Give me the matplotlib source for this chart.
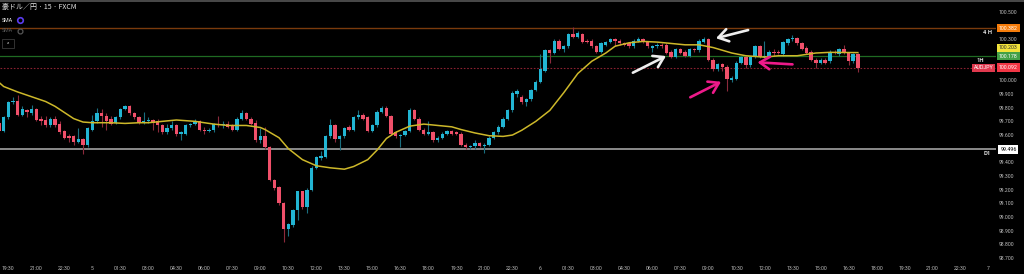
import matplotlib

matplotlib.use("Agg")
import matplotlib.pyplot as plt
import matplotlib.transforms as mtransforms
import numpy as np

plt.rcParams["font.family"] = ["Roboto", "Noto Sans CJK JP", "DejaVu Sans"]

# --- data (AUD/JPY 15m candles) ---------------------------------------------
opens = [
    99.69, 99.63, 99.73, 99.84, 99.85, 99.75, 99.78, 99.76, 99.79, 99.72,
    99.71, 99.67, 99.72, 99.68, 99.63, 99.59, 99.59, 99.55, 99.57, 99.53,
    99.64, 99.70, 99.76, 99.74, 99.72, 99.69, 99.73, 99.79, 99.81, 99.76,
    99.73, 99.69, 99.70, 99.71, 99.70, 99.67, 99.62, 99.65, 99.67, 99.61,
    99.61, 99.67, 99.68, 99.70, 99.64, 99.63, 99.64, 99.68, 99.67, 99.68,
    99.67, 99.64, 99.72, 99.76, 99.72, 99.69, 99.56, 99.59, 99.51, 99.27,
    99.22, 99.10, 98.91, 98.94, 99.05, 99.19, 99.07, 99.20, 99.36, 99.43,
    99.44, 99.59, 99.67, 99.57, 99.59, 99.66, 99.64, 99.73, 99.75, 99.73,
    99.63, 99.67, 99.77, 99.80, 99.74, 99.62, 99.59, 99.60, 99.63, 99.78,
    99.72, 99.64, 99.61, 99.62, 99.56, 99.58, 99.61, 99.63, 99.62, 99.61,
    99.53, 99.51, 99.52, 99.54, 99.52, 99.53, 99.58, 99.62, 99.66, 99.72,
    99.78, 99.90, 99.88, 99.84, 99.86, 99.93, 99.99, 100.07, 100.22, 100.20,
    100.29, 100.23, 100.25, 100.34, 100.32, 100.34, 100.29, 100.29, 100.25, 100.21,
    100.26, 100.28, 100.30, 100.29, 100.27, 100.27, 100.25, 100.29, 100.30, 100.28,
    100.24, 100.25, 100.26, 100.26, 100.21, 100.17, 100.23, 100.21, 100.18, 100.23,
    100.22, 100.28, 100.30, 100.15, 100.08, 100.12, 100.10, 100.00, 100.01, 100.13,
    100.17, 100.11, 100.17, 100.25, 100.17, 100.18, 100.21, 100.21, 100.19, 100.27,
    100.30, 100.31, 100.27, 100.24, 100.21, 100.15, 100.13, 100.15, 100.14, 100.21,
    100.19, 100.23, 100.20, 100.14, 100.19,
]
closes = [
    99.63, 99.73, 99.84, 99.85, 99.75, 99.79, 99.77, 99.79, 99.71, 99.70,
    99.67, 99.72, 99.67, 99.62, 99.58, 99.58, 99.55, 99.57, 99.53, 99.65,
    99.70, 99.76, 99.74, 99.70, 99.68, 99.73, 99.79, 99.81, 99.76, 99.73,
    99.69, 99.70, 99.71, 99.69, 99.67, 99.62, 99.65, 99.67, 99.61, 99.62,
    99.67, 99.68, 99.70, 99.64, 99.63, 99.64, 99.68, 99.67, 99.68, 99.66,
    99.64, 99.72, 99.76, 99.72, 99.68, 99.56, 99.59, 99.51, 99.27, 99.21,
    99.10, 98.91, 98.95, 99.05, 99.19, 99.07, 99.20, 99.36, 99.44, 99.45,
    99.59, 99.67, 99.57, 99.59, 99.65, 99.64, 99.73, 99.75, 99.72, 99.63,
    99.67, 99.77, 99.80, 99.74, 99.61, 99.59, 99.60, 99.63, 99.78, 99.72,
    99.64, 99.61, 99.62, 99.56, 99.58, 99.61, 99.63, 99.61, 99.61, 99.53,
    99.51, 99.52, 99.54, 99.52, 99.53, 99.58, 99.62, 99.66, 99.72, 99.78,
    99.91, 99.92, 99.84, 99.86, 99.93, 99.99, 100.08, 100.22, 100.20, 100.29,
    100.23, 100.25, 100.34, 100.32, 100.35, 100.28, 100.28, 100.25, 100.21, 100.27,
    100.28, 100.30, 100.29, 100.27, 100.26, 100.25, 100.29, 100.30, 100.28, 100.25,
    100.25, 100.26, 100.25, 100.20, 100.17, 100.23, 100.20, 100.18, 100.23, 100.22,
    100.29, 100.30, 100.15, 100.08, 100.12, 100.10, 100.01, 100.02, 100.13, 100.17,
    100.11, 100.17, 100.25, 100.17, 100.18, 100.21, 100.20, 100.20, 100.28, 100.30,
    100.31, 100.27, 100.23, 100.20, 100.15, 100.13, 100.15, 100.13, 100.21, 100.20,
    100.23, 100.20, 100.14, 100.19, 100.092,
]
highs = [
    99.70, 99.74, 99.85, 99.88, 99.89, 99.81, 99.79, 99.82, 99.80, 99.74,
    99.74, 99.73, 99.74, 99.70, 99.64, 99.61, 99.60, 99.65, 99.58, 99.66,
    99.75, 99.80, 99.79, 99.76, 99.74, 99.74, 99.80, 99.82, 99.82, 99.77,
    99.74, 99.77, 99.73, 99.72, 99.72, 99.68, 99.68, 99.70, 99.68, 99.63,
    99.68, 99.69, 99.72, 99.71, 99.66, 99.65, 99.69, 99.74, 99.70, 99.70,
    99.68, 99.73, 99.78, 99.77, 99.73, 99.71, 99.65, 99.66, 99.52, 99.28,
    99.23, 99.11, 98.96, 99.06, 99.19, 99.19, 99.21, 99.37, 99.45, 99.48,
    99.60, 99.72, 99.68, 99.60, 99.66, 99.67, 99.74, 99.78, 99.76, 99.74,
    99.68, 99.78, 99.81, 99.81, 99.75, 99.63, 99.61, 99.64, 99.80, 99.79,
    99.73, 99.65, 99.70, 99.63, 99.59, 99.62, 99.64, 99.64, 99.63, 99.62,
    99.54, 99.53, 99.56, 99.55, 99.54, 99.59, 99.63, 99.67, 99.73, 99.79,
    99.92, 99.94, 99.89, 99.87, 99.94, 100.00, 100.19, 100.23, 100.23, 100.30,
    100.30, 100.26, 100.35, 100.39, 100.36, 100.35, 100.30, 100.30, 100.26, 100.28,
    100.29, 100.31, 100.31, 100.30, 100.28, 100.28, 100.30, 100.32, 100.31, 100.29,
    100.26, 100.27, 100.27, 100.27, 100.22, 100.24, 100.24, 100.22, 100.24, 100.24,
    100.30, 100.32, 100.31, 100.16, 100.13, 100.13, 100.11, 100.03, 100.14, 100.18,
    100.18, 100.18, 100.26, 100.26, 100.29, 100.22, 100.23, 100.22, 100.29, 100.31,
    100.33, 100.32, 100.28, 100.25, 100.22, 100.16, 100.16, 100.16, 100.22, 100.22,
    100.24, 100.26, 100.21, 100.20, 100.20,
]
lows = [
    99.62, 99.62, 99.72, 99.83, 99.74, 99.74, 99.73, 99.75, 99.70, 99.67,
    99.66, 99.66, 99.66, 99.61, 99.57, 99.55, 99.53, 99.54, 99.46, 99.51,
    99.63, 99.69, 99.66, 99.64, 99.67, 99.68, 99.72, 99.78, 99.75, 99.72,
    99.68, 99.68, 99.69, 99.64, 99.62, 99.61, 99.61, 99.64, 99.59, 99.56,
    99.60, 99.66, 99.67, 99.63, 99.61, 99.62, 99.62, 99.66, 99.65, 99.65,
    99.63, 99.63, 99.71, 99.71, 99.67, 99.55, 99.54, 99.50, 99.26, 99.20,
    99.09, 98.82, 98.86, 98.93, 98.98, 99.06, 99.03, 99.19, 99.35, 99.42,
    99.43, 99.58, 99.55, 99.49, 99.58, 99.63, 99.63, 99.72, 99.71, 99.62,
    99.62, 99.66, 99.76, 99.73, 99.60, 99.58, 99.51, 99.59, 99.62, 99.71,
    99.63, 99.60, 99.60, 99.55, 99.55, 99.57, 99.60, 99.60, 99.60, 99.52,
    99.50, 99.50, 99.50, 99.51, 99.47, 99.52, 99.57, 99.61, 99.65, 99.71,
    99.77, 99.88, 99.83, 99.81, 99.85, 99.92, 99.98, 100.06, 100.13, 100.19,
    100.22, 100.21, 100.24, 100.31, 100.31, 100.27, 100.27, 100.24, 100.20, 100.20,
    100.25, 100.27, 100.25, 100.26, 100.25, 100.24, 100.24, 100.28, 100.27, 100.24,
    100.21, 100.24, 100.24, 100.19, 100.16, 100.16, 100.19, 100.17, 100.17, 100.21,
    100.21, 100.27, 100.14, 100.07, 100.07, 100.07, 99.92, 99.99, 100.00, 100.12,
    100.09, 100.10, 100.16, 100.16, 100.16, 100.17, 100.18, 100.19, 100.18, 100.26,
    100.29, 100.26, 100.22, 100.19, 100.14, 100.09, 100.12, 100.12, 100.13, 100.19,
    100.18, 100.19, 100.11, 100.13, 100.06,
]

# SMA curve sampled at candle indices
sma_idx = [0, 1, 4, 7, 10, 12, 14, 16, 18, 20, 24, 27, 30, 32, 35, 38, 42, 46,
           49, 53, 56, 57, 59, 60, 62, 65, 68, 71, 74, 76, 79, 81, 83, 85, 88,
           91, 94, 97, 99, 102, 105, 108, 110, 112, 115, 118, 121, 124, 127,
           130, 132, 135, 138, 141, 144, 147, 150, 153, 157, 160, 164, 167,
           171, 175, 178, 184]
sma_val = [99.985, 99.955, 99.915, 99.88, 99.845, 99.81, 99.765, 99.72, 99.695,
           99.69, 99.69, 99.685, 99.69, 99.69, 99.70, 99.71, 99.70, 99.68,
           99.67, 99.67, 99.655, 99.64, 99.60, 99.58, 99.50, 99.42, 99.375,
           99.36, 99.35, 99.37, 99.42, 99.49, 99.575, 99.62, 99.665, 99.68,
           99.67, 99.66, 99.64, 99.615, 99.595, 99.59, 99.60, 99.635, 99.70,
           99.78, 99.91, 100.05, 100.14, 100.20, 100.25, 100.275, 100.285,
           100.28, 100.27, 100.26, 100.26, 100.24, 100.20, 100.18, 100.17,
           100.18, 100.18, 100.20, 100.205, 100.203]

time_labels = (["19:30", "21:00", "22:30", "5"]
               + ["01:30", "03:00", "04:30", "06:00", "07:30", "09:00", "10:30",
                  "12:00", "13:30", "15:00", "16:30", "18:00", "19:30", "21:00",
                  "22:30", "6"]
               + ["01:30", "03:00", "04:30", "06:00", "07:30", "09:00", "10:30",
                  "12:00", "13:30", "15:00", "16:30", "18:00", "19:30", "21:00",
                  "22:30", "7"])
price_ticks = [100.5, 100.3, 100.0, 99.9, 99.8, 99.7, 99.6, 99.4, 99.3, 99.2,
               99.1, 99.0, 98.9, 98.8, 98.7]

level_4h = 100.382
level_1h = 100.178
level_d1 = 99.496
sma_last = 100.203
symbol = "AUDJPY"
title = "豪ドル／円 · 15 · FXCM"

# --- figure -----------------------------------------------------------------
W, H = 1024, 274
fig = plt.figure(figsize=(W / 100, H / 100), dpi=100, facecolor="black")
ax = fig.add_axes([0, 12 / H, 996 / W, 259 / H])
ax.set_facecolor("black")
for s in ax.spines.values():
    s.set_visible(False)

UP, DN = "#22b5d3", "#f0506a"
UPW, DNW = "#1a6f80", "#8c2a3c"

o = np.array(opens)
c = np.array(closes)
hi = np.array(highs)
lo = np.array(lows)
x = np.arange(len(c))
up = c >= o
ax.vlines(x[up], lo[up], hi[up], color=UPW, lw=0.8, zorder=2)
ax.vlines(x[~up], lo[~up], hi[~up], color=DNW, lw=0.8, zorder=2)
body = np.maximum(np.abs(c - o), 0.005)
bottom = np.minimum(o, c)
ax.bar(x[up], body[up], 0.72, bottom[up], color=UP, lw=0, zorder=3)
ax.bar(x[~up], body[~up], 0.72, bottom[~up], color=DN, lw=0, zorder=3)

ax.plot(sma_idx, sma_val, color="#cdb82a", lw=1.1, zorder=4)

# horizontal levels
ax.axhline(level_4h, color="#7a3a0c", lw=1.0, zorder=1)
ax.axhline(level_1h, color="#1f6a22", lw=0.9, zorder=1)
ax.axhline(closes[-1], color="#8a2030", lw=0.8, ls=(0, (1.5, 1.5)), zorder=1)
ax.axhline(level_d1, color="#8a8a8a", lw=1.4, zorder=1)

ax.set_xlim(0.21, 213.6)
ax.set_ylim(98.671, 100.566)

# time axis
ax.set_xticks([2 + 6 * k for k in range(len(time_labels))])
ax.set_xticklabels(time_labels, fontsize=3.7, color="#bdbdbd")
ax.tick_params(axis="x", length=0, pad=3.0)

# price axis
ax.yaxis.tick_right()
ax.set_yticks(price_ticks)
ax.set_yticklabels([f"{p:.3f}" for p in price_ticks], fontsize=3.7, color="#bdbdbd")
ax.tick_params(axis="y", length=0, pad=2.2)

# level tags inside plot
tr = mtransforms.blended_transform_factory(ax.transAxes, ax.transData)
lab = dict(color="#e0e0e0", fontsize=4.2, fontweight="bold", ha="center", zorder=6)
ax.text(0.991, level_4h - 0.012, "4 H", va="top", transform=tr, **lab)
ax.text(0.984, level_1h - 0.012, "1H", va="top", transform=tr, **lab)
ax.text(0.991, level_d1 - 0.012, "D1", va="top", transform=tr, **lab)
ax.text(0.9875, closes[-1], symbol, va="center", ha="center", transform=tr,
        fontsize=3.8, color="white", zorder=7,
        bbox=dict(facecolor="#e0394e", edgecolor="none", pad=1.2))

# price tags on axis
def tag(price, text, bg, fg):
    ax.text(1.0125, price, text, va="center", ha="center", transform=tr,
            fontsize=3.8, color=fg, zorder=8, clip_on=False,
            bbox=dict(facecolor=bg, edgecolor="none", pad=1.3))

tag(level_4h, f"{level_4h:.3f}", "#f57c0a", "white")
tag(sma_last + 0.035, f"{sma_last:.3f}", "#f2e23a", "#333333")
tag(level_1h, f"{level_1h:.3f}", "#43a047", "white")
tag(closes[-1], f"{closes[-1]:.3f}", "#f23645", "white")
tag(level_d1, f"{level_d1:.3f}", "white", "black")

# hand-drawn arrows
def arrow(tail, head, col):
    ax.annotate("", xy=head, xytext=tail, zorder=9,
                arrowprops=dict(arrowstyle="->,head_length=0.7,head_width=0.45",
                                color=col, lw=1.9, shrinkA=0, shrinkB=0))

arrow((135.8, 100.056), (142.9, 100.178), "#eeeeee")
arrow((160.5, 100.368), (153.6, 100.308), "#eeeeee")
arrow((148.1, 99.876), (154.7, 99.990), "#ee1a8a")
arrow((170.0, 100.117), (162.5, 100.132), "#ee1a8a")

# header / legend
def fx(px):
    return px / W


def fy(py):
    return 1 - py / H


fig.patches.append(plt.Rectangle((0, fy(2)), 1, 2 / H, transform=fig.transFigure,
                                 facecolor="#474747", edgecolor="none"))
fig.text(fx(2), fy(7.5), title, fontsize=5, color="#e8e8e8", va="center",
         family=["Noto Sans CJK JP", "DejaVu Sans"])
fig.text(fx(2), fy(20), "SMA", fontsize=3.8, color="#e8e8e8", va="center")
fig.add_artist(plt.Line2D([fx(20)], [fy(20)], marker="o", ms=4, mfc="none",
                          mec="#5b3cf0", mew=1.2, transform=fig.transFigure))
fig.text(fx(2), fy(31), "SMA", fontsize=3.8, color="#555555", va="center")
fig.add_artist(plt.Line2D([fx(20)], [fy(31)], marker="o", ms=3.5, mfc="none",
                          mec="#555555", mew=0.9, transform=fig.transFigure))
fig.patches.append(plt.Rectangle((fx(2), fy(48)), fx(12), 9 / H,
                                 transform=fig.transFigure, facecolor="black",
                                 edgecolor="#3a3a3a", lw=0.6))
fig.text(fx(8), fy(44), "^", fontsize=4, color="#cccccc", ha="center", va="center")

fig.savefig("out.png", dpi=100, facecolor="black")
